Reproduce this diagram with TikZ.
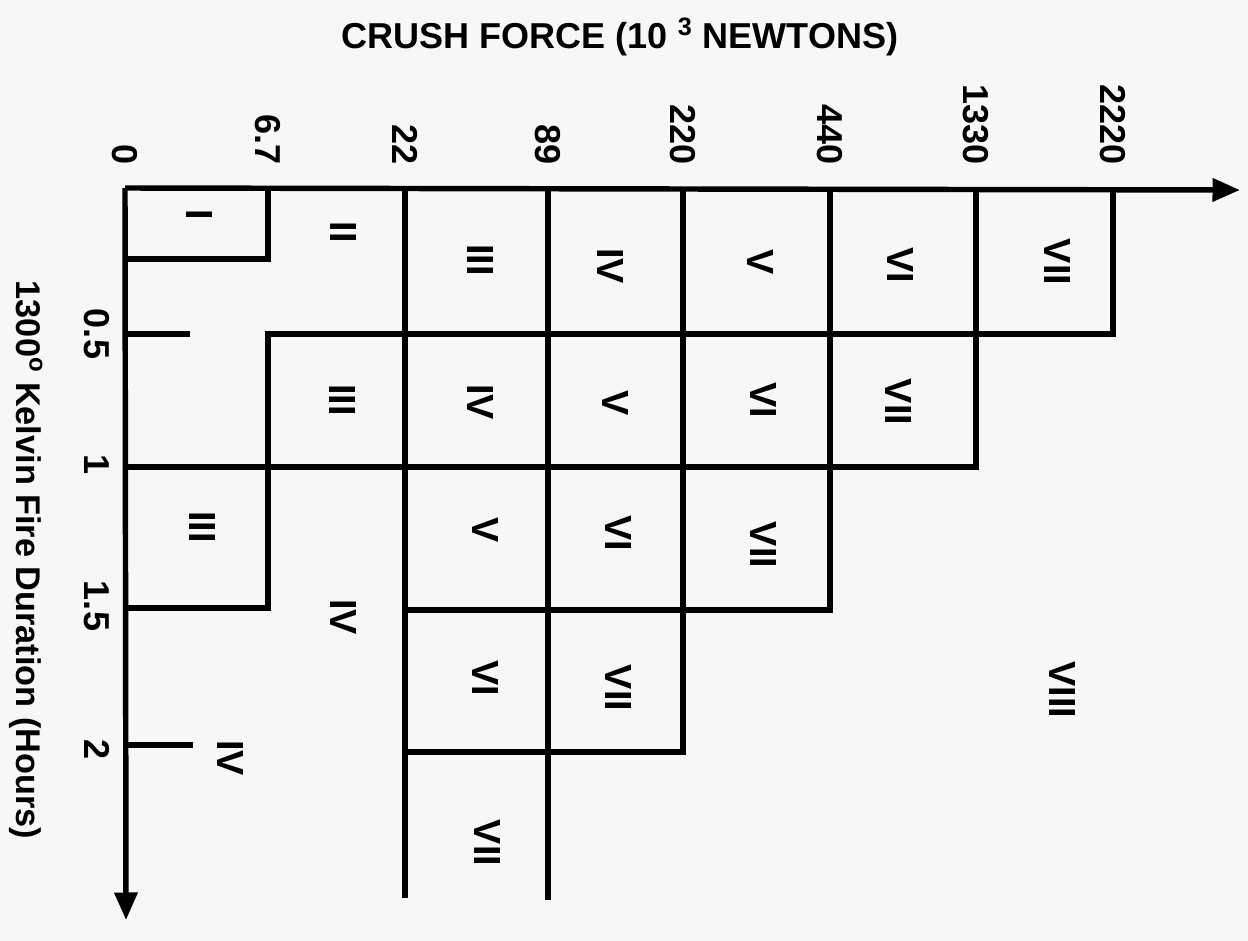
\documentclass[tikz,border=0pt]{standalone}
\usepackage{fontspec}
\setmainfont{Liberation Sans}
\usetikzlibrary{arrows.meta}
\definecolor{paper}{RGB}{247,247,247}

\begin{document}
\begin{tikzpicture}[x=0.2mm, y=-0.2mm]

		\tikzstyle{axis} = [line width=3.1pt, -{Triangle[length=5.5mm, width=4.5mm]}]
		\tikzstyle{wall} = [line width=3.1pt, line join=miter]
		\tikzstyle{zone} = [rotate=-90, inner sep=0pt, font=\fontsize{21.5}{24}\selectfont\bfseries]
		\tikzstyle{tick} = [rotate=-90, inner sep=0pt, font=\fontsize{20.5}{24}\selectfont\bfseries]

		\fill[paper] (0,0) rectangle (1248,941);

		% axes
		\coordinate (O) at (125,188);
		\coordinate (Fend) at (1240,190);
		\coordinate (Tend) at (126,920);
		\draw[axis] (O) -- (Fend);
		\draw[axis] (O) -- (Tend);

		\node (title) at (620,37) {\fontsize{20.5}{24}\selectfont\bfseries CRUSH FORCE (10 \textsuperscript{3} NEWTONS)};
		\node[rotate=-90, font=\fontsize{19.5}{24}\selectfont\bfseries] (ylabel) at (26,560) {1300\textsuperscript{o} Kelvin Fire Duration (Hours)};

		% force values
		\node[tick, anchor=east] (f0) at (125,165) {0};
		\node[tick, anchor=east] (f1) at (268,165) {6.7};
		\node[tick, anchor=east] (f2) at (405,165) {22};
		\node[tick, anchor=east] (f3) at (548,165) {89};
		\node[tick, anchor=east] (f4) at (683,165) {220};
		\node[tick, anchor=east] (f5) at (830,165) {440};
		\node[tick, anchor=east] (f6) at (976,165) {1330};
		\node[tick, anchor=east] (f7) at (1113,165) {2220};

		% duration values
		\node[tick] (t1) at (97,334) {0.5};
		\node[tick] (t2) at (97,465) {1};
		\node[tick] (t3) at (97,606) {1.5};
		\node[tick] (t4) at (97,750) {2};

		% region borders
		\draw[wall] (268,188) -- (268,259) -- (125,259);
		\draw[wall] (125,334) -- (190,334);
		\draw[wall] (125,608) -- (268,608) -- (268,334) -- (1113,334) -- (1113,188);
		\draw[wall] (125,467) -- (976,467) -- (976,188);
		\draw[wall] (405,188) -- (405,898);
		\draw[wall] (548,188) -- (548,900);
		\draw[wall] (683,188) -- (683,752) -- (405,752);
		\draw[wall] (830,188) -- (830,610) -- (405,610);
		\draw[wall] (125,745) -- (193,745);

		% categories
		\node[zone] (a1) at (199,215) {I};
		\node[zone] (a2) at (343,232) {II};
		\node[zone] (a3) at (480,260) {III};
		\node[zone] (a4) at (610,266) {IV};
		\node[zone] (a5) at (760,262) {V};
		\node[zone] (a6) at (900,265) {VI};
		\node[zone] (a7) at (1057,262) {VII};

		\node[zone] (b3) at (342,400) {III};
		\node[zone] (b4) at (480,402) {IV};
		\node[zone] (b5) at (615,403) {V};
		\node[zone] (b6) at (763,400) {VI};
		\node[zone] (b7) at (898,402) {VII};

		\node[zone] (c3) at (202,527) {III};
		\node[zone] (c4) at (343,617) {IV};
		\node[zone] (c5) at (485,530) {V};
		\node[zone] (c6) at (618,533) {VI};
		\node[zone] (c7) at (763,545) {VII};

		\node[zone] (d6) at (485,678) {VI};
		\node[zone] (d7) at (618,688) {VII};
		\node[zone] (d8) at (1062,690) {VIII};

		\node[zone] (e4) at (230,758) {IV};
		\node[zone] (e7) at (487,843) {VII};

\end{tikzpicture}
\end{document}
